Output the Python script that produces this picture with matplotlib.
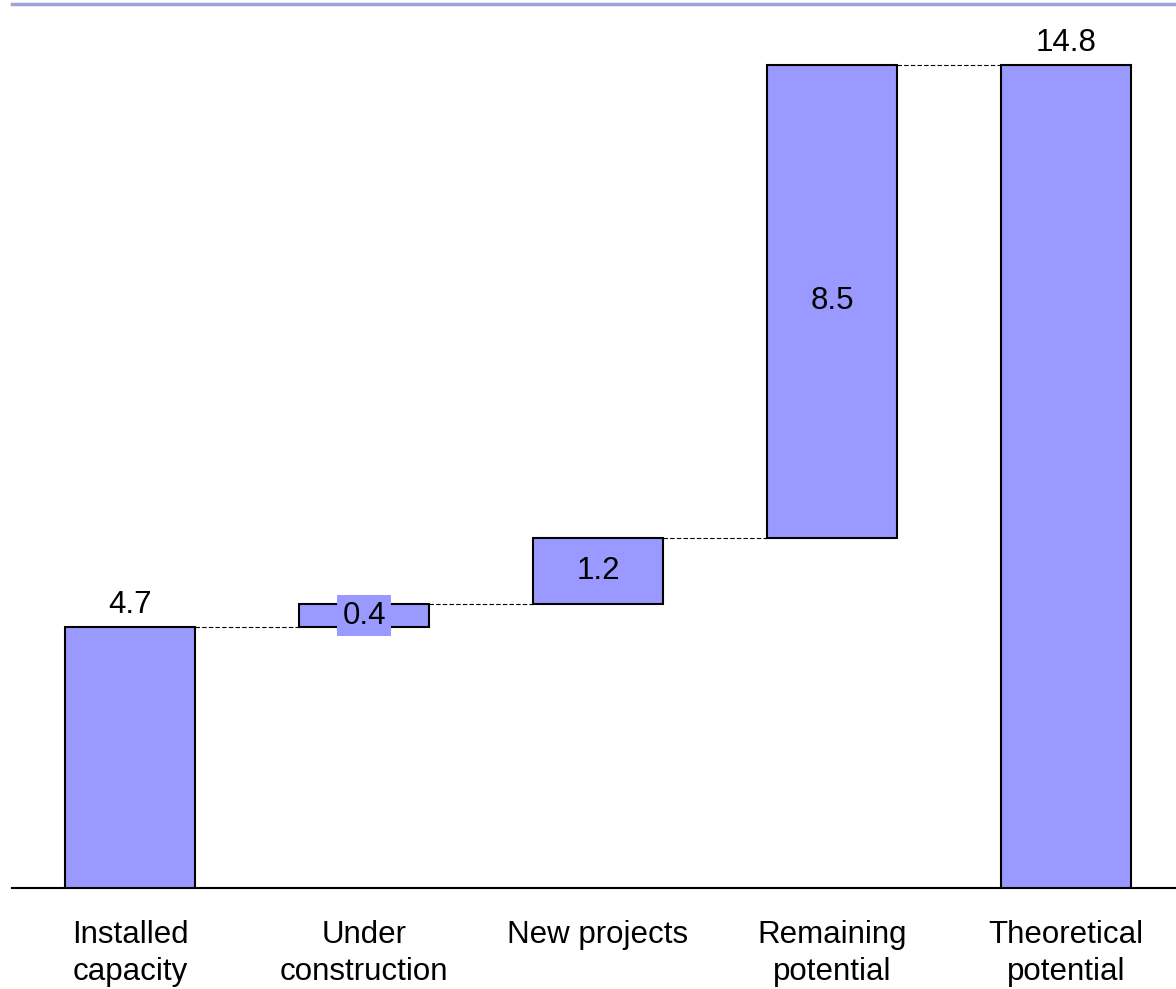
import matplotlib.pyplot as plt

plt.rcParams['font.family'] = ['Liberation Sans', 'DejaVu Sans']

categories = ['Installed\ncapacity', 'Under\nconstruction', 'New projects',
              'Remaining\npotential', 'Theoretical\npotential']
values = [4.7, 0.4, 1.2, 8.5, 14.8]
labels = ['4.7', '0.4', '1.2', '8.5', '14.8']

# waterfall: first and last bars from zero, the rest float
bottoms = [0, 4.7, 5.1, 6.3, 0]
tops = [b + v for b, v in zip(bottoms, values)]

fig = plt.figure(figsize=(11.76, 9.89), dpi=100)
ax = fig.add_axes([12 / 1176, 101 / 989, 1164 / 1176, 884 / 989])

color = '#9999ff'
width = 130 / 234
x = list(range(len(values)))
ax.bar(x, values, bottom=bottoms, width=width, color=color,
       edgecolor='black', linewidth=1.5, zorder=3)

# dashed connectors between bars
for i in range(len(values) - 1):
    ax.plot([x[i] + width / 2, x[i + 1] - width / 2], [tops[i], tops[i]],
            ls='--', color='black', lw=0.8, dashes=(4, 2), zorder=2)

fs = 22.5
# value labels
for i, v in enumerate(values):
    if i in (0, 4):
        ax.text(x[i], tops[i] + 0.12, labels[i], ha='center', va='bottom', fontsize=fs)
    elif i == 1:
        ax.text(x[i], bottoms[i] + v / 2, labels[i], ha='center', va='center', fontsize=fs,
                bbox=dict(facecolor=color, edgecolor='none', pad=4), zorder=4)
    else:
        ax.text(x[i], bottoms[i] + v / 2, labels[i], ha='center', va='center', fontsize=fs, zorder=4)

ax.set_xlim(-118 / 234, 1046 / 234)
ax.set_ylim(0, 884 / 55.6)
ax.set_xticks(x)
ax.set_xticklabels(categories, fontsize=fs, linespacing=1.3)
ax.tick_params(axis='x', length=0, pad=23)
ax.set_yticks([])

ax.spines['left'].set_visible(False)
ax.spines['right'].set_visible(False)
ax.spines['bottom'].set_linewidth(1.5)
ax.spines['top'].set_color('#a0a0d8')
ax.spines['top'].set_linewidth(2.5)

plt.savefig('out.png', dpi=100)
